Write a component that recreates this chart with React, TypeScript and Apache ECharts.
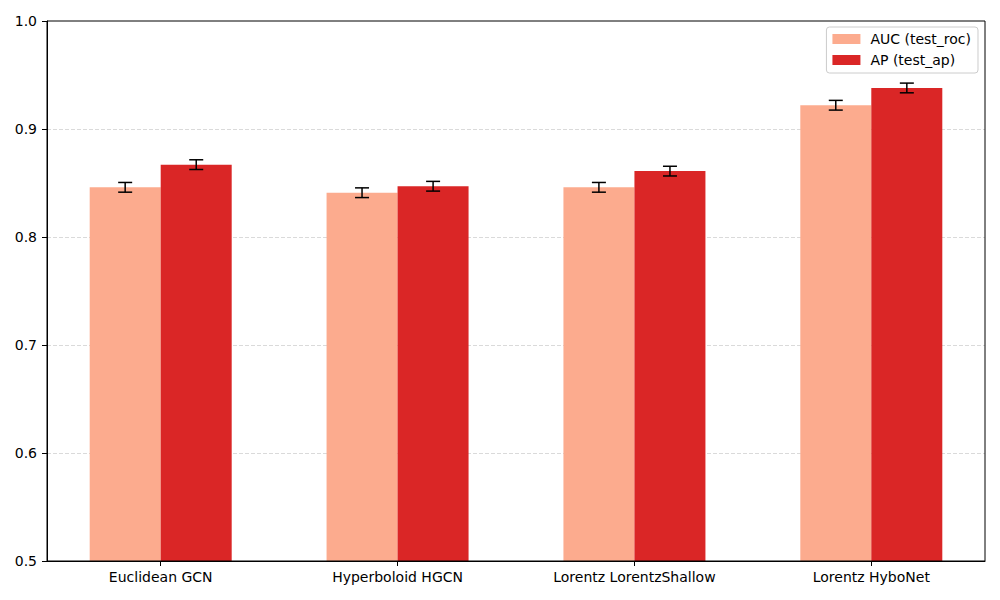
import React, { useEffect, useRef } from "react";
import * as echarts from "echarts";

const categories = ["Euclidean GCN", "Hyperboloid HGCN", "Lorentz LorentzShallow", "Lorentz HyboNet"];
const aucValues = [0.846, 0.841, 0.846, 0.922];
const aucErrors = [0.0045, 0.0045, 0.0045, 0.0045];
const apValues = [0.867, 0.847, 0.861, 0.938];
const apErrors = [0.0045, 0.0045, 0.0045, 0.0045];
const seriesNames = ["AUC (test_roc)", "AP (test_ap)"];

const AUC_COLOR = "#fcab8e";
const AP_COLOR = "#da2626";
const FONT = "DejaVu Sans";
const HALF = 0.15; // half of group: each bar is 0.3 category units wide

export default function App() {
  const ref = useRef<HTMLDivElement>(null);
  useEffect(() => {
    if (!ref.current) return;
    const chart = echarts.init(ref.current, undefined, { renderer: "svg" });

    const errData: any[] = [];
    aucValues.forEach((v, i) => errData.push([i, v, aucErrors[i], -1]));
    apValues.forEach((v, i) => errData.push([i, v, apErrors[i], 1]));

    const option: any = {
      animation: false,
      textStyle: { fontFamily: FONT },
      grid: {
        left: 47,
        right: 15,
        top: 21,
        bottom: 39,
        show: true,
        borderColor: "#000",
        borderWidth: 1,
        backgroundColor: "transparent",
        z: 10,
      },
      legend: {
        data: seriesNames,
        orient: "vertical",
        right: 22,
        top: 27,
        padding: [5, 7, 6, 6],
        itemWidth: 28,
        itemHeight: 10,
        itemGap: 7,
        borderColor: "#cccccc",
        borderWidth: 1,
        borderRadius: 3,
        backgroundColor: "rgba(255,255,255,0.8)",
        icon: "rect",
        textStyle: { fontSize: 14, color: "#000", fontFamily: FONT, padding: [0, 0, 0, 5] },
      },
      xAxis: {
        type: "value",
        min: -0.48,
        max: 3.48,
        splitLine: { show: false },
        axisLine: { show: true, onZero: false, lineStyle: { color: "#000", width: 1 } },
        axisTick: {
          show: true,
          length: 5,
          lineStyle: { color: "#000" },
          customValues: categories.map((_, i) => i),
        },
        axisLabel: {
          customValues: categories.map((_, i) => i),
          formatter: (v: number) => categories[Math.round(v)] ?? "",
          fontSize: 14,
          color: "#000",
          fontFamily: FONT,
          margin: 9,
        },
      },
      yAxis: {
        type: "value",
        min: 0.5,
        max: 1.0,
        interval: 0.1,
        axisLine: { show: true, onZero: false, lineStyle: { color: "#000", width: 1 } },
        axisTick: { show: true, length: 5, lineStyle: { color: "#000" } },
        axisLabel: {
          formatter: (v: number) => v.toFixed(1),
          fontSize: 14,
          color: "#000",
          fontFamily: FONT,
          margin: 10,
        },
        splitLine: {
          show: true,
          showMinLine: false,
          showMaxLine: false,
          lineStyle: { color: "#d0d0d0", type: [4, 2], width: 0.8 },
        },
      },
      series: [
        {
          name: seriesNames[0],
          type: "bar",
          data: aucValues.map((v, i) => [i, v]),
          barWidth: 71,
          barGap: "0%",
          itemStyle: { color: AUC_COLOR },
          z: 2,
        },
        {
          name: seriesNames[1],
          type: "bar",
          data: apValues.map((v, i) => [i, v]),
          barWidth: 71,
          barGap: "0%",
          itemStyle: { color: AP_COLOR },
          z: 2,
        },
        {
          name: "errors",
          type: "custom",
          z: 5,
          data: errData,
          renderItem: (params: any, api: any) => {
            const i = api.value(0);
            const v = api.value(1);
            const e = api.value(2);
            const side = api.value(3);
            const x = i + side * HALF;
            const top = api.coord([x, v + e]);
            const bot = api.coord([x, v - e]);
            const cap = 7;
            const style = { stroke: "#000", lineWidth: 1.5, fill: "none" };
            return {
              type: "group",
              children: [
                { type: "line", shape: { x1: top[0], y1: top[1], x2: bot[0], y2: bot[1] }, style },
                { type: "line", shape: { x1: top[0] - cap, y1: top[1], x2: top[0] + cap, y2: top[1] }, style },
                { type: "line", shape: { x1: bot[0] - cap, y1: bot[1], x2: bot[0] + cap, y2: bot[1] }, style },
              ],
            };
          },
        },
      ],
    };
    chart.setOption(option);
    return () => chart.dispose();
  }, []);
  return <div ref={ref} style={{ width: 1000, height: 600, margin: -8 }} />;
}
